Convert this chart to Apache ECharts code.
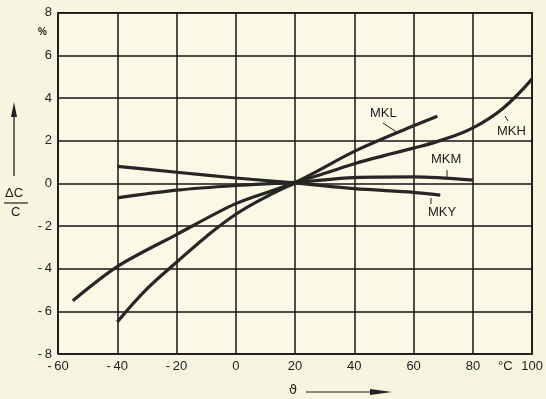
<!DOCTYPE html>
<html>
<head>
<meta charset="utf-8">
<script src="https://cdn.jsdelivr.net/npm/echarts@6/dist/echarts.min.js"></script>
<style>
html,body{margin:0;padding:0;background:#f7f4df;}
#c{width:546px;height:399px;}
</style>
</head>
<body>
<div id="c"></div>
<script>
// Temperatures (°C) and capacitance change (%) per series
var mklT = [-55, -40, -20, 0, 20, 40, 60, 68];
var mklV = [-5.5, -3.9, -2.4, -0.95, 0.05, 1.5, 2.7, 3.15];
var mkhT = [-40, -30, -20, -10, 0, 10, 20, 30, 40, 50, 60, 70, 80, 90, 100];
var mkhV = [-6.5, -4.95, -3.7, -2.5, -1.45, -0.65, 0, 0.47, 0.92, 1.3, 1.65, 2.05, 2.6, 3.5, 4.9];
var mkmT = [-40, -20, 0, 20, 40, 60, 80];
var mkmV = [-0.68, -0.32, -0.1, 0.05, 0.27, 0.3, 0.15];
var mkyT = [-40, -20, 0, 20, 40, 60, 69];
var mkyV = [0.8, 0.52, 0.25, 0.02, -0.25, -0.42, -0.55];
var seriesNames = ['MKL', 'MKH', 'MKM', 'MKY'];
var xTicks = [-60, -40, -20, 0, 20, 40, 60, 80, 100];
var yTicks = [-8, -6, -4, -2, 0, 2, 4, 6, 8];

function pairs(t, v) { return t.map(function (x, i) { return [x, v[i]]; }); }
function fmt(v) { return v < 0 ? '-\u2009' + Math.abs(v) : String(v); }

var ink = '#262626';
var chart = echarts.init(document.getElementById('c'));
var lineStyle = { color: ink, width: 3.2 };
function mk(name, t, v, smooth) {
  return { name: name, type: 'line', data: pairs(t, v), smooth: smooth,
           symbol: 'none', lineStyle: lineStyle, z: 5, animation: false };
}
var lblFont = { color: '#1c1c1c', fontFamily: 'Liberation Sans', fontSize: 13 };
chart.setOption({
  backgroundColor: '#f7f4df',
  animation: false,
  grid: { left: 58, right: 11, top: 12.7, bottom: 45, show: true,
          borderColor: '#161616', borderWidth: 1.6, backgroundColor: '#fbf8e6' },
  xAxis: {
    type: 'value', min: xTicks[0], max: xTicks[xTicks.length - 1], interval: 20,
    axisLine: { show: false }, axisTick: { show: false },
    splitLine: { show: true, lineStyle: { color: '#161616', width: 1.5 } },
    axisLabel: Object.assign({ margin: 6, formatter: function (v) { return fmt(v); } }, lblFont)
  },
  yAxis: {
    type: 'value', min: yTicks[0], max: yTicks[yTicks.length - 1], interval: 2,
    axisLine: { show: false }, axisTick: { show: false },
    splitLine: { show: true, lineStyle: { color: '#161616', width: 1.5 } },
    axisLabel: Object.assign({ margin: 6, formatter: function (v) { return fmt(v); } }, lblFont)
  },
  series: [
    mk(seriesNames[0], mklT, mklV, 0.3),
    mk(seriesNames[1], mkhT, mkhV, 0.4),
    mk(seriesNames[2], mkmT, mkmV, 0.3),
    mk(seriesNames[3], mkyT, mkyV, 0.3)
  ],
  graphic: [
    { type: 'text', left: 38, top: 27, style: { text: '%', font: 'bold 10px Liberation Sans', fill: '#222' } },
    { type: 'text', left: 498, top: 360, style: { text: '°C', font: '13px Liberation Sans', fill: '#1c1c1c' } },
    // ΔC / C label with arrow
    { type: 'text', left: 5, top: 187, style: { text: 'ΔC', font: '13px Liberation Sans', fill: '#1c1c1c' } },
    { type: 'line', shape: { x1: 4, y1: 203, x2: 28, y2: 203 }, style: { stroke: '#222', lineWidth: 1.2 } },
    { type: 'text', left: 11, top: 206, style: { text: 'C', font: '13px Liberation Sans', fill: '#1c1c1c' } },
    { type: 'line', shape: { x1: 14, y1: 114, x2: 14, y2: 176 }, style: { stroke: '#222', lineWidth: 1.3 } },
    { type: 'polygon', shape: { points: [[14, 102], [11, 117], [17, 117]] }, style: { fill: '#222' } },
    // ϑ label with arrow
    { type: 'text', left: 289, top: 384, style: { text: 'ϑ', font: '13px DejaVu Sans', fill: '#222' } },
    { type: 'line', shape: { x1: 306, y1: 392, x2: 376, y2: 392 }, style: { stroke: '#222', lineWidth: 1.2 } },
    { type: 'polygon', shape: { points: [[392, 392], [370, 389], [370, 395]] }, style: { fill: '#222' } },
    // series labels
    { type: 'text', left: 370, top: 107, style: { text: 'MKL', font: '13px Liberation Sans', fill: '#1c1c1c' } },
    { type: 'line', shape: { x1: 383, y1: 123, x2: 398, y2: 133 }, style: { stroke: '#222', lineWidth: 1 } },
    { type: 'text', left: 497, top: 125, style: { text: 'MKH', font: '13px Liberation Sans', fill: '#1c1c1c' } },
    { type: 'line', shape: { x1: 505, y1: 116, x2: 508, y2: 121 }, style: { stroke: '#222', lineWidth: 1 } },
    { type: 'text', left: 431, top: 153, style: { text: 'MKM', font: '13px Liberation Sans', fill: '#1c1c1c' } },
    { type: 'line', shape: { x1: 447, y1: 170, x2: 447, y2: 178 }, style: { stroke: '#222', lineWidth: 1 } },
    { type: 'text', left: 428, top: 206, style: { text: 'MKY', font: '13px Liberation Sans', fill: '#1c1c1c' } },
    { type: 'line', shape: { x1: 431, y1: 198, x2: 431, y2: 204 }, style: { stroke: '#222', lineWidth: 1 } }
  ]
});
</script>
</body>
</html>
